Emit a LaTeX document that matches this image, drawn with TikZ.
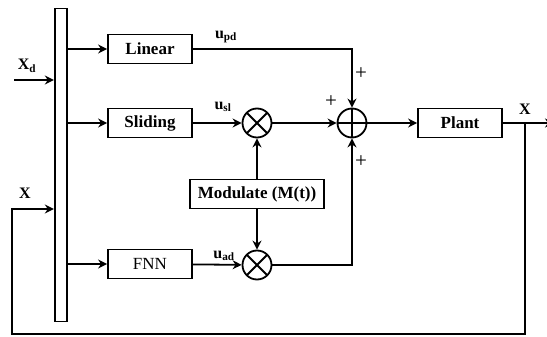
\documentclass[tikz,border=0pt]{standalone}
\usepackage{fontspec}
\setmainfont{Liberation Serif}
\usetikzlibrary{positioning,calc,arrows.meta}

\begin{document}
\begin{tikzpicture}[x=1pt, y=-1pt, line width=1.8pt, >={Stealth[length=9pt, width=9pt]},
  block/.style={draw, inner sep=0pt, minimum width=84pt, minimum height=29pt, font=\fontsize{17}{19}\selectfont\bfseries},
  mult/.style={circle, draw, minimum size=29pt, inner sep=0pt, path picture={\draw (path picture bounding box.north west) -- (path picture bounding box.south east) (path picture bounding box.south west) -- (path picture bounding box.north east);}},
  summer/.style={circle, draw, minimum size=29pt, inner sep=0pt, path picture={\draw (path picture bounding box.north) -- (path picture bounding box.south) (path picture bounding box.west) -- (path picture bounding box.east);}},
  lbl/.style={font=\fontsize{16}{18}\selectfont\bfseries, inner sep=0pt},
  sgn/.style={font=\fontsize{21}{23}\selectfont, inner sep=0pt}]

\useasboundingbox (0,0) rectangle (547,337);
\clip (0,0) rectangle (547,337);

% blocks
\node[draw, inner sep=0pt, minimum width=12.5pt, minimum height=313pt] (bar) at (61,165) {};
\node[block] (lin) at (150,49) {Linear};
\node[block] (sl) at (150,123) {Sliding};
\node[block, font=\fontsize{17}{19}\selectfont] (fnn) at (150,264) {FNN};
\node[block, minimum width=134pt] (mod) at (257,194) {Modulate (M(t))};
\node[block] (plant) at (460,123) {Plant};
\node[mult] (m1) at (257,123) {};
\node[mult] (m2) at (257,265) {};
\node[summer] (sum) at (352,123) {};

\coordinate (xd) at (14,80);
\coordinate (fb) at (525,123);
\coordinate (fbl) at (12,334);
\coordinate (fbin) at (30,209);
\coordinate (out) at (554,123);

% connectors
\draw[->] (xd) -- (xd -| bar.west);
\draw[->] (bar.east |- lin) -- (lin);
\draw[->] (bar.east |- sl) -- (sl);
\draw[->] (bar.east |- fnn) -- (fnn);
\draw[->] (sl) -- (m1);
\draw[->] (fnn) -- (m2);
\draw[->] (mod) -- (m1);
\draw[->] (mod) -- (m2);
\draw[->] (lin) -| (sum);
\draw[->] (m1) -- (sum);
\draw[->] (m2) -| (sum);
\draw[->] (sum) -- (plant);
\draw[->] (plant) -- (out);
\draw[->] (fb) |- (fbl) |- (bar.west |- fbin);

% labels
\node[lbl] (lxd) at (27,66) {X\textsubscript{d}};
\node[lbl] (lx) at (25,193) {X};
\node[lbl] (lxo) at (525,109) {X};
\node[lbl] (upd) at (226,37) {u\textsubscript{pd}};
\node[lbl] (usl) at (223,107) {u\textsubscript{sl}};
\node[lbl] (uad) at (224,256) {u\textsubscript{ad}};
\node[sgn] (p1) at (361,74) {+};
\node[sgn] (p2) at (331,102) {+};
\node[sgn] (p3) at (361,162) {+};
\end{tikzpicture}
\end{document}
